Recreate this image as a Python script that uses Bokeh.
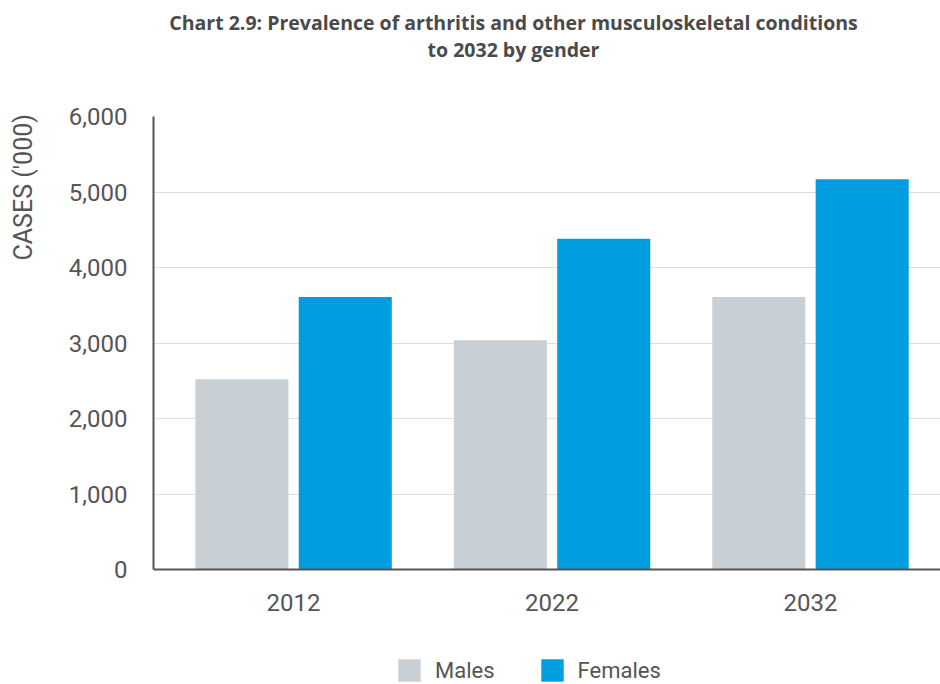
import math
import numpy as np
from bokeh.plotting import figure
from bokeh.layouts import column, row
from bokeh.models import (ColumnDataSource, Range1d, FixedTicker, NumeralTickFormatter,
                          Legend, LegendItem, Label)
from bokeh.transform import dodge
from bokeh.embed import file_html
from bokeh.resources import INLINE

# Prevalence of arthritis and other musculoskeletal conditions ('000 cases)
years = ["2012", "2022", "2032"]
males = [2520, 3035, 3610]
females = [3610, 4380, 5170]
y_ticks = [0, 1000, 2000, 3000, 4000, 5000, 6000]
title_lines = ["Chart 2.9: Prevalence of arthritis and other musculoskeletal conditions",
               "to 2032 by gender"]
y_caption = "CASES ('000)"
series_names = ["Males", "Females"]

MALE_COLOR = "#c8d0d5"
FEMALE_COLOR = "#009ddf"
TEXT_COLOR = "#555555"
TITLE_COLOR = "#4a4a4a"
AXIS_FONT = "Roboto"

centers = np.arange(len(years)) + 0.5
source = ColumnDataSource(data=dict(x=centers, year=years, males=males, females=females))

CAP_W = 45                   # strip holding the vertical caption
W = 940 - CAP_W
H = 684
HEAD_H, MAIN_H, LEG_H = 100, 540, 44
FRAME_LEFT = 153             # page x where the plotting area starts


def bare(fig):
    fig.xgrid.visible = False
    fig.ygrid.visible = False
    fig.outline_line_color = None
    return fig


def blank_fig(width, height, x_range, y_range):
    return bare(figure(width=width, height=height, output_backend="svg",
                       toolbar_location=None, x_range=x_range, y_range=y_range,
                       x_axis_location=None, y_axis_location=None,
                       min_border=0, min_border_left=0, min_border_right=0,
                       min_border_top=0, min_border_bottom=0))


# ---- vertical caption strip ----
cap = blank_fig(CAP_W, H, Range1d(0, CAP_W), Range1d(0, H))
cap.add_layout(Label(x=23, y=H - 260, text=y_caption, angle=math.pi / 2,
                     text_align="left", text_baseline="middle", text_font=AXIS_FONT,
                     text_font_size="25px", text_color=TEXT_COLOR))

# ---- header: two-line bold title (frame shares the chart's left edge) ----
head = blank_fig(W, HEAD_H, Range1d(FRAME_LEFT, 940), Range1d(0, HEAD_H))
for i, line in enumerate(title_lines):
    head.add_layout(Label(x=513, y=HEAD_H - (22 + 27 * i), text=line,
                          text_align="center", text_baseline="alphabetic",
                          text_font="Open Sans", text_font_style="bold",
                          text_font_size="19.5px", text_color=TITLE_COLOR))

# ---- main bar chart ----
p = figure(width=W, height=MAIN_H, output_backend="svg", toolbar_location=None,
           x_range=Range1d(-0.042, 3.003), y_range=Range1d(0, 6000),
           min_border_left=FRAME_LEFT - CAP_W, min_border_top=16, min_border_bottom=71,
           min_border_right=0, outline_line_color=None)

p.vbar(x=dodge("x", -0.2, range=p.x_range), top="males", width=0.36, source=source,
       fill_color=MALE_COLOR, line_color=None)
p.vbar(x=dodge("x", 0.2, range=p.x_range), top="females", width=0.36, source=source,
       fill_color=FEMALE_COLOR, line_color=None)

p.xaxis.ticker = FixedTicker(ticks=list(centers))
p.xaxis.major_label_overrides = {float(c): y for c, y in zip(centers, years)}
p.yaxis.ticker = FixedTicker(ticks=y_ticks)
p.yaxis.formatter = NumeralTickFormatter(format="0,0")
for ax in (p.xaxis, p.yaxis):
    ax.axis_line_color = TEXT_COLOR
    ax.axis_line_width = 2
    ax.major_tick_line_color = None
    ax.minor_tick_line_color = None
    ax.major_tick_out = 0
    ax.major_tick_in = 0
    ax.major_label_text_font = AXIS_FONT
    ax.major_label_text_font_size = "24px"
    ax.major_label_text_color = TEXT_COLOR
p.xaxis.major_label_standoff = 24
p.yaxis.major_label_standoff = 26

p.xgrid.grid_line_color = None
p.ygrid.grid_line_color = "#dedede"
p.ygrid.grid_line_width = 1

# ---- legend strip: hidden copies of the series supply the swatches ----
leg_fig = blank_fig(W, LEG_H, Range1d(0, 3), Range1d(-2, -1))
sw_m = leg_fig.vbar(x="x", top="males", width=0.36, source=source,
                    fill_color=MALE_COLOR, line_color=None, visible=False)
sw_f = leg_fig.vbar(x="x", top="females", width=0.36, source=source,
                    fill_color=FEMALE_COLOR, line_color=None, visible=False)
legend = Legend(items=[LegendItem(label=series_names[0], renderers=[sw_m]),
                       LegendItem(label=series_names[1], renderers=[sw_f])],
                orientation="horizontal", location=(395 - FRAME_LEFT, 0),
                border_line_color=None, background_fill_alpha=0,
                padding=0, margin=0, spacing=43,
                glyph_width=28, glyph_height=28, label_standoff=12,
                label_text_font=AXIS_FONT, label_text_font_size="22px",
                label_text_color=TEXT_COLOR, label_height=28)
leg_fig.add_layout(legend)

layout = row(cap, column(head, p, leg_fig, spacing=0), spacing=0)
open("out.html", "w").write(file_html(layout, INLINE))
